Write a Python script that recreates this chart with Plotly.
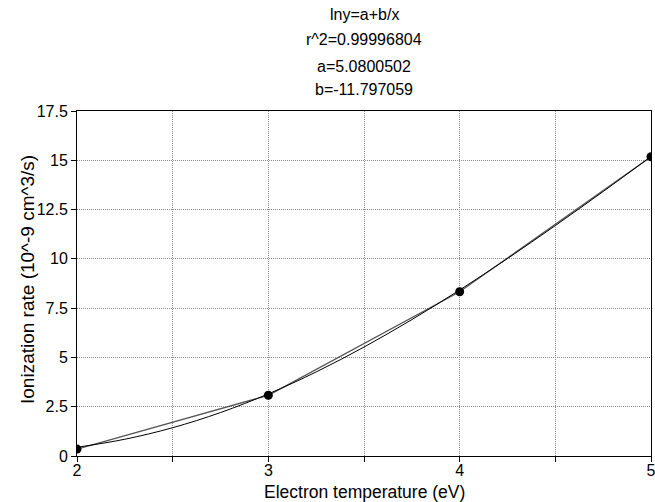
import plotly.graph_objects as go

# measured data points
x_data = [2, 3, 4, 5]
y_data = [0.35, 3.08, 8.33, 15.18]

# fitted curve ln y = a + b/x (values read/sampled)
x_fit = [2.0, 2.25, 2.5, 2.75, 3.0, 3.25, 3.5, 3.75, 4.0, 4.25, 4.5, 4.75, 5.0]
y_fit = [0.441, 0.850, 1.435, 2.204, 3.151, 4.264, 5.526, 6.918, 8.421, 10.017, 11.688, 13.416, 15.190]

title_lines = ["lny=a+b/x", "r^2=0.99996804", "a=5.0800502", "b=-11.797059"]
title_y_px = [14, 40, 66, 90]

x_ticks = [2, 3, 4, 5]
y_ticks = [0, 2.5, 5, 7.5, 10, 12.5, 15, 17.5]
y_ticklabels = ["0", "2.5", "5", "7.5", "10", "12.5", "15", "17.5"]

FONT = "Liberation Sans, Arial, sans-serif"

fig = go.Figure()
fig.add_trace(go.Scatter(x=x_data, y=y_data, mode="lines",
                         line=dict(color="#555555", width=1.3), hoverinfo="skip"))
fig.add_trace(go.Scatter(x=x_fit, y=y_fit, mode="lines", line_shape="spline",
                         line=dict(color="black", width=1), hoverinfo="skip"))
fig.add_trace(go.Scatter(x=x_data, y=y_data, mode="markers",
                         marker=dict(color="black", size=9)))

L, R, T, B = 77, 4, 111, 46
W, H = 655, 502
ph = H - T - B

GRIDC = "#8c8c8c"
DASH = "1px,1px"

fig.update_layout(
    width=W, height=H,
    margin=dict(l=L, r=R, t=T, b=B, autoexpand=False),
    paper_bgcolor="white", plot_bgcolor="white",
    showlegend=False,
    font=dict(family=FONT, size=16, color="black"),
    xaxis=dict(range=[2, 5], tickvals=x_ticks, ticks="outside", ticklen=5,
               tickcolor="black", showline=True, linecolor="black", linewidth=1,
               mirror=True, zeroline=False, ticklabeloverflow="allow",
               ticklabelstandoff=-5, automargin=False,
               showgrid=True, gridcolor=GRIDC, griddash=DASH, gridwidth=1,
               minor=dict(dtick=0.5, showgrid=True, gridcolor=GRIDC, griddash=DASH,
                          ticks="outside", ticklen=5, tickcolor="black")),
    yaxis=dict(range=[0, 17.5], tickvals=y_ticks, ticktext=y_ticklabels,
               ticks="outside", ticklen=5, tickcolor="black",
               showline=True, linecolor="black", linewidth=1, mirror=True,
               zeroline=False, automargin=False,
               showgrid=True, gridcolor=GRIDC, griddash=DASH, gridwidth=1),
)

anns = []
for txt, py in zip(title_lines, title_y_px):
    anns.append(dict(text=txt, xref="paper", yref="paper", x=0.5,
                     y=(H - B - py) / ph, xanchor="center", yanchor="middle",
                     showarrow=False, font=dict(size=16)))
anns.append(dict(text="Electron temperature (eV)", xref="paper", yref="paper",
                 x=0.5, y=-(492 - (H - B)) / ph, xanchor="center", yanchor="middle",
                 showarrow=False, font=dict(size=17.5)))
anns.append(dict(text="Ionization rate (10^-9 cm^3/s)", xref="paper", yref="paper",
                 x=(27 - L) / (W - L - R), y=(H - B - 280) / ph, xanchor="center",
                 yanchor="middle", textangle=-90, showarrow=False, font=dict(size=19)))
fig.update_layout(annotations=anns)

fig.write_html("out.html")
